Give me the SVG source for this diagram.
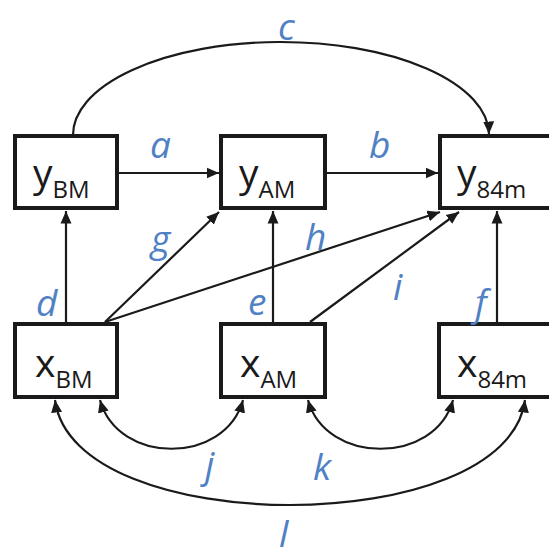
<svg xmlns="http://www.w3.org/2000/svg" width="549" height="548" viewBox="0 0 549 548">
  <style>
    .box{fill:#fff;stroke:#1a1a1a;stroke-width:4}
    .main{font-family:"Open Sans","Liberation Sans",sans-serif;font-size:39px;fill:#1a1a1a}
    .sub{font-size:24px}
    .lbl{font-family:"Open Sans","Liberation Sans",sans-serif;font-style:italic;font-size:37px;fill:#4f81c4}
    .edge{fill:none;stroke:#1a1a1a;stroke-width:2.2}
  </style>
  <defs>
    <marker id="ah" markerUnits="userSpaceOnUse" markerWidth="14" markerHeight="14" viewBox="0 0 14 14" refX="12.5" refY="7" orient="auto-start-reverse">
      <path d="M0,1.5 L12.5,7 L0,12.5 Z" fill="#1a1a1a"/>
    </marker>
  </defs>
  <g id="connectors">
    <path class="edge" d="M117,173 L219,173" marker-end="url(#ah)"/>
    <path class="edge" d="M325,173 L438,173" marker-end="url(#ah)"/>
    <path class="edge" d="M73,136 A208,93 0 0 1 489,134" marker-end="url(#ah)"/>
    <path class="edge" d="M66,322 L66,211" marker-end="url(#ah)"/>
    <path class="edge" d="M273,322 L273,211" marker-end="url(#ah)"/>
    <path class="edge" d="M497,322 L497,211" marker-end="url(#ah)"/>
    <path class="edge" d="M105,322 L219,212" marker-end="url(#ah)"/>
    <path class="edge" d="M105,322 L440,212" marker-end="url(#ah)"/>
    <path class="edge" d="M310,322 L459,212" marker-end="url(#ah)"/>
    <path class="edge" d="M100,400 C118,465 225,465 243,400" marker-start="url(#ah)" marker-end="url(#ah)"/>
    <path class="edge" d="M308,400 C326,465 435,465 453,400" marker-start="url(#ah)" marker-end="url(#ah)"/>
    <path class="edge" d="M55,400 C73,540 507,540 525,400" marker-start="url(#ah)" marker-end="url(#ah)"/>
  </g>
  <g id="yBM"><rect class="box" x="15" y="136" width="102" height="72"/><text class="main" x="33" y="187">y<tspan class="sub" y="198">BM</tspan></text></g>
  <g id="yAM"><rect class="box" x="221" y="136" width="104" height="72"/><text class="main" x="239" y="187">y<tspan class="sub" y="198">AM</tspan></text></g>
  <g id="y84m"><rect class="box" x="440" y="136" width="120" height="72"/><text class="main" x="457" y="187">y<tspan class="sub" y="198">84m</tspan></text></g>
  <g id="xBM"><rect class="box" x="15" y="324" width="102" height="73"/><text class="main" x="35" y="377">x<tspan class="sub" y="388">BM</tspan></text></g>
  <g id="xAM"><rect class="box" x="221" y="324" width="104" height="73"/><text class="main" x="240" y="377">x<tspan class="sub" y="388">AM</tspan></text></g>
  <g id="x84m"><rect class="box" x="439" y="324" width="120" height="73"/><text class="main" x="457" y="377">x<tspan class="sub" y="388">84m</tspan></text></g>
  <g id="labels">
    <text class="lbl" x="278" y="40">c</text>
    <text class="lbl" x="150" y="158">a</text>
    <text class="lbl" x="369" y="158">b</text>
    <text class="lbl" x="151" y="252">g</text>
    <text class="lbl" x="305" y="250">h</text>
    <text class="lbl" x="36" y="316">d</text>
    <text class="lbl" x="248" y="315">e</text>
    <text class="lbl" x="393" y="300">i</text>
    <text class="lbl" x="475" y="316">f</text>
    <text class="lbl" x="205" y="478">j</text>
    <text class="lbl" x="313" y="480">k</text>
    <text class="lbl" x="279" y="547">l</text>
  </g>
</svg>
